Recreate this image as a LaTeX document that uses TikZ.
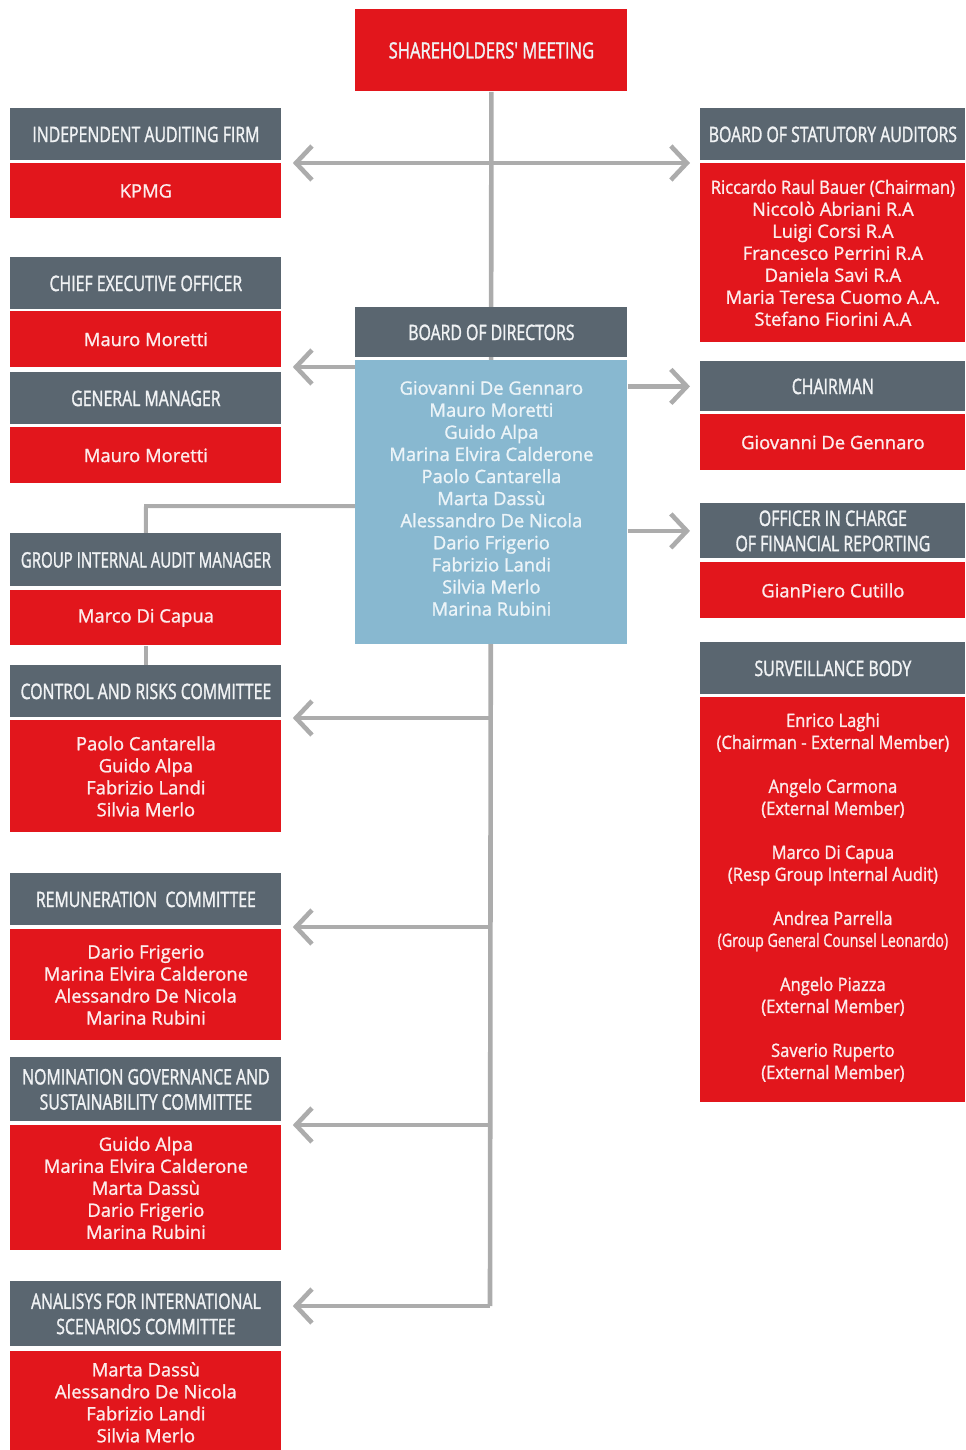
\documentclass[tikz,border=0pt]{standalone}
\usepackage{fontspec}
\usetikzlibrary{arrows.meta,backgrounds}
\newfontfamily\namefont[FakeBold=1.2]{Open Sans}
\newfontfamily\namecond[FakeStretch=0.9,FakeBold=1.2]{Open Sans}
\newfontfamily\hdrfont[FakeStretch=0.74,FakeBold=1.4]{Open Sans}
\definecolor{redc}{RGB}{226,22,28}
\definecolor{hdrgray}{RGB}{90,102,112}
\definecolor{bluec}{RGB}{136,184,208}
\definecolor{conncol}{RGB}{172,172,172}
\definecolor{hdrtext}{RGB}{240,242,244}
\definecolor{nametext}{RGB}{252,236,236}
\definecolor{bluetext}{RGB}{236,244,248}
\tikzset{
  boxbase/.style={anchor=north west, inner sep=0pt, align=center},
  hdrbox/.style={boxbase, fill=hdrgray, text=hdrtext, font=\hdrfont\fontsize{10.7}{12.6}\selectfont},
  redhdr/.style={boxbase, fill=redc, text=hdrtext, font=\hdrfont\fontsize{11.2}{12.6}\selectfont},
  redbody/.style={boxbase, fill=redc, text=nametext, font=\namefont\fontsize{9.2}{11}\selectfont},
  bluebody/.style={boxbase, fill=bluec, text=bluetext, font=\namefont\fontsize{9.2}{11.05}\selectfont},
  wL/.style={minimum width=135.5pt},
  wR/.style={minimum width=132.5pt},
  wC/.style={minimum width=136pt},
  conn/.style={draw=conncol, line width=2.3pt},
  thinconn/.style={draw=conncol, line width=2pt},
  arr/.style={conn, -{Straight Barb[length=8pt,width=17pt]}},
  darr/.style={conn, {Straight Barb[length=8pt,width=17pt]}-{Straight Barb[length=8pt,width=17pt]}}
}
\begin{document}
\begin{tikzpicture}[x=0.5pt,y=-0.5pt]
\useasboundingbox (0,0) rectangle (965,1450);
% centre column
\node[redhdr, wC, minimum height=41pt] (sm) at (355,9) {SHAREHOLDERS' MEETING};
\node[hdrbox, wC, minimum height=25pt] (bodh) at (355,307) {BOARD OF DIRECTORS};
\node[bluebody, wC, minimum height=142pt] (bodb) at (355,360) {Giovanni De Gennaro\\Mauro Moretti\\Guido Alpa\\Marina Elvira Calderone\\Paolo Cantarella\\Marta Dass\`u\\Alessandro De Nicola\\Dario Frigerio\\Fabrizio Landi\\Silvia Merlo\\Marina Rubini\\[-7pt]};
% left column
\node[hdrbox, wL, minimum height=26pt] (iafh) at (10,108) {INDEPENDENT AUDITING FIRM};
\node[redbody, wL, minimum height=27.5pt] (iafb) at (10,163) {KPMG};
\node[hdrbox, wL, minimum height=26pt] (ceoh) at (10,257) {CHIEF EXECUTIVE OFFICER};
\node[redbody, wL, minimum height=28pt] (ceob) at (10,311) {Mauro Moretti};
\node[hdrbox, wL, minimum height=26pt] (gmh) at (10,372) {GENERAL MANAGER};
\node[redbody, wL, minimum height=28pt] (gmb) at (10,427) {Mauro Moretti};
\node[hdrbox, wL, minimum height=26.5pt] (giah) at (10,533) {\scalebox{0.95}[1]{GROUP INTERNAL AUDIT MANAGER}};
\node[redbody, wL, minimum height=27.5pt] (giab) at (10,590) {Marco Di Capua};
\node[hdrbox, wL, minimum height=26pt] (crch) at (10,665) {CONTROL AND RISKS COMMITTEE};
\node[redbody, wL, minimum height=56pt] (crcb) at (10,720) {Paolo Cantarella\\Guido Alpa\\Fabrizio Landi\\Silvia Merlo};
\node[hdrbox, wL, minimum height=26pt] (remh) at (10,873) {REMUNERATION\ \ COMMITTEE};
\node[redbody, wL, minimum height=55.5pt] (remb) at (10,929) {Dario Frigerio\\Marina Elvira Calderone\\Alessandro De Nicola\\Marina Rubini};
\node[hdrbox, wL, minimum height=32pt] (ngsh) at (10,1057) {NOMINATION GOVERNANCE AND\\SUSTAINABILITY COMMITTEE};
\node[redbody, wL, minimum height=62.5pt] (ngsb) at (10,1125) {Guido Alpa\\Marina Elvira Calderone\\Marta Dass\`u\\Dario Frigerio\\Marina Rubini};
\node[hdrbox, wL, minimum height=32.5pt] (aish) at (10,1281) {ANALISYS FOR INTERNATIONAL\\SCENARIOS COMMITTEE};
\node[redbody, wL, minimum height=52pt] (aisb) at (10,1351) {\\[-5pt]Marta Dass\`u\\Alessandro De Nicola\\Fabrizio Landi\\Silvia Merlo};
% right column
\node[hdrbox, wR, minimum height=26pt] (bsah) at (700,108) {BOARD OF STATUTORY AUDITORS};
\node[redbody, wR, minimum height=89.5pt] (bsab) at (700,163) {{\namecond Riccardo Raul Bauer (Chairman)}\\Niccol\`o Abriani R.A\\Luigi Corsi R.A\\Francesco Perrini R.A\\Daniela Savi R.A\\Maria Teresa Cuomo A.A.\\Stefano Fiorini A.A};
\node[hdrbox, wR, minimum height=25pt] (chh) at (700,361) {CHAIRMAN};
\node[redbody, wR, minimum height=28pt] (chb) at (700,414) {Giovanni De Gennaro};
\node[hdrbox, wR, minimum height=27.5pt] (ofrh) at (700,503) {OFFICER IN CHARGE\\OF FINANCIAL REPORTING};
\node[redbody, wR, minimum height=28pt] (ofrb) at (700,562) {GianPiero Cutillo};
\node[hdrbox, wR, minimum height=26pt] (sbh) at (700,642) {SURVEILLANCE BODY};
\node[redbody, wR, minimum height=202.5pt, font=\namecond\fontsize{9.2}{11}\selectfont] (sbb) at (700,697) {Enrico Laghi\\(Chairman - External Member)\\[11pt]Angelo Carmona\\(External Member)\\[11pt]Marco Di Capua\\(Resp Group Internal Audit)\\[11pt]Andrea Parrella\\\scalebox{0.86}[1]{(Group General Counsel Leonardo)}\\[11pt]Angelo Piazza\\(External Member)\\[11pt]Saverio Ruperto\\(External Member)\\[-7pt]};
% junction coordinates
\coordinate (jtop) at (490,163);
\coordinate (jceo) at (355,367);
\coordinate (jgia) at (355,506);
\coordinate (jgib) at (146,506);
\coordinate (jcrc) at (490,718);
\coordinate (jrem) at (490,927);
\coordinate (jngs) at (490,1125);
\coordinate (jais) at (490,1306);
\begin{scope}[on background layer]
\draw[conn] (sm.south) -- (jais);
\draw[thinconn] (jgia) -- (jgib) -- (giah.north);
\draw[thinconn] (giab.south) -- (crch.north);
\end{scope}
\draw[darr] ([xshift=5.5pt]iafb.east |- jtop) -- ([xshift=-5pt]bsab.west |- jtop);
\draw[arr] (jceo) -- ([xshift=5.5pt]ceob.east |- jceo);
\draw[arr] (bodb.east |- chh.east) -- ([xshift=-5pt]chh.west);
\draw[arr] (bodb.east |- ofrh.east) -- ([xshift=-5pt]ofrh.west);
\draw[arr] (jcrc) -- ([xshift=5.5pt]crch.east |- jcrc);
\draw[arr] (jrem) -- ([xshift=5.5pt]remh.east |- jrem);
\draw[arr] (jngs) -- ([xshift=5.5pt]ngsh.east |- jngs);
\draw[arr] (jais) -- ([xshift=5.5pt]aish.east |- jais);
\end{tikzpicture}
\end{document}
